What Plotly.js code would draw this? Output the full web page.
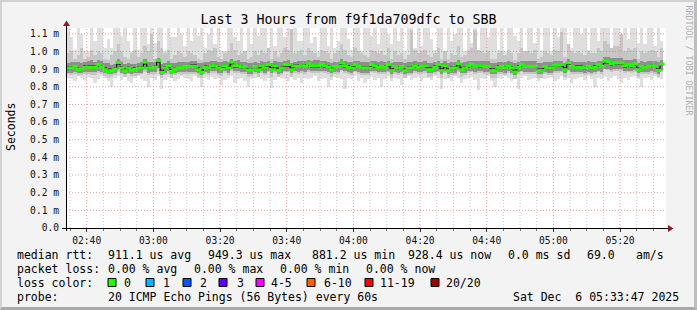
<!DOCTYPE html>
<html><head><meta charset="utf-8">
<script src="https://cdn.plot.ly/plotly-3.0.1.min.js"></script>
<style>
html,body{margin:0;padding:0;background:#f3f3f3;}
#wrap{position:relative;width:697px;height:310px;}
#chart{width:697px;height:310px;}
#frame{position:absolute;left:0;top:0;width:697px;height:310px;box-sizing:border-box;border-style:solid;border-width:2px 3px 3px 2px;border-color:#d2d2d2 #bdbdbd #a9a9a9 #d2d2d2;pointer-events:none;}
</style>
</head><body><div id="wrap"><div id="chart"></div><div id="frame"></div></div>
<script>
// ---- data (microseconds), one value per 1-minute bin starting 02:34 ----
const firstBinMinute = 2*60 + 34;   // 02:34
const medianRtt = [
905.9,905.9,915.4,898.4,902.2,909.7,909.7,909.7,909.7,926.7,911.6,896.5,887.1,890.8,900.3,938.0,905.9,889.0,905.9,894.6,898.4,905.9,905.9,939.9,905.9,907.8,911.6,949.3,881.2,905.9,919.2,887.1,900.3,907.8,907.8,915.4,
915.4,915.4,915.4,896.5,882.0,909.7,905.9,919.2,919.2,905.9,900.3,919.2,905.9,939.9,919.2,919.2,911.6,915.4,894.6,894.6,915.4,896.5,919.2,905.9,926.7,896.5,919.2,892.7,905.9,926.7,926.7,896.5,917.3,915.4,919.2,915.4,
930.5,919.2,919.2,919.2,926.7,919.2,911.6,896.5,915.4,915.4,936.1,919.2,909.7,905.9,926.7,915.4,905.9,905.9,905.9,926.7,919.2,909.7,915.4,909.7,926.7,890.8,915.4,905.9,915.4,890.8,905.9,905.9,919.2,909.7,915.4,919.2,
896.5,896.5,909.7,926.7,890.8,919.2,890.8,905.9,905.9,930.5,896.5,905.9,919.2,926.7,915.4,919.2,919.2,915.4,915.4,890.8,890.8,909.7,915.4,905.9,919.2,905.9,883.3,909.7,926.7,915.4,915.4,915.4,915.4,890.8,890.8,915.4,
905.9,905.9,922.9,922.9,926.7,896.5,936.1,915.4,909.7,909.7,909.7,905.9,915.4,905.9,909.7,926.7,915.4,947.0,941.8,930.5,936.1,936.1,936.1,919.2,926.7,919.2,930.5,896.5,915.4,909.7,915.4,919.2,915.4,892.7,928.4];

// outer smoke (lightest): max / min ping
const smokeMax = [
1140,1080,1010,1140,1100,1000,1000,1140,1060,1140,1140,1020,1070,1020,1140,1140,1090,1140,1060,1000,1140,1010,1140,1140,1040,1140,1050,1140,1140,1000,1140,1080,1080,1140,1100,1030,
1140,1060,1140,1090,1140,1020,1100,1140,1040,1140,1000,1000,1140,1140,1080,1060,1140,1000,1140,1040,1140,1090,1140,1140,1000,1140,1030,1140,1140,1080,1140,990,1140,1060,1060,1140,
1140,1050,1080,1000,1140,1140,1030,1140,1020,1060,1140,1140,1070,1010,1140,1140,1000,1140,1140,1090,1140,1040,1140,1140,1100,1040,1140,1060,1140,1000,1140,1140,1020,1140,1030,1140,
1140,1070,1010,1140,1140,1000,1140,1060,1100,1140,1140,1000,1140,1050,1140,990,1140,1140,1080,1140,1140,1010,1140,1000,1140,1140,1090,1060,1140,1000,1140,1140,1050,1140,1010,1140,
1140,1000,1140,1080,1140,1140,1040,1020,1140,1140,1100,1140,1010,1140,1140,1060,1140,1140,1140,1020,1140,1140,990,1140,1070,1140,1140,1050,1140,1040,1140,1140,1030,1140,1060];
const smokeMin = [
850,845,830,860,850,840,855,850,820,845,860,850,830,800,850,860,840,855,835,820,850,860,845,830,800,850,840,860,790,840,855,850,830,845,860,850,
845,830,860,850,800,850,840,855,845,850,810,840,850,860,820,845,850,835,800,845,850,860,845,830,850,795,840,860,850,845,830,855,840,850,820,850,
845,850,860,830,845,850,800,840,855,850,845,790,850,845,860,830,850,820,845,855,840,850,800,845,860,835,850,845,810,850,860,840,850,855,830,850,
850,840,860,850,790,845,850,830,860,850,820,845,850,855,840,780,850,845,860,835,800,850,845,860,850,830,845,790,850,860,840,845,850,830,855,845,
850,855,830,845,860,840,850,820,845,850,855,840,860,845,800,850,845,855,830,850,860,845,820,850,840,855,860,845,800,850,855,840,860,850,845];
// second smoke band
const band2Hi = [
990,1000,960,980,1020,960,970,1010,980,1000,990,960,950,980,1000,1040,1000,970,960,990,1010,970,990,1030,1000,1100,960,1060,1020,990,1010,960,980,1000,990,970,
1000,990,980,960,950,990,1010,1000,1020,970,960,990,1000,1050,1010,980,990,1000,960,970,1000,980,1010,990,1020,960,1000,970,990,1020,1010,1130,990,1000,1010,980,
1020,1000,990,970,1010,1000,990,960,990,1000,1040,1010,980,970,1020,1000,990,980,970,1010,1000,990,1000,980,1020,960,1000,980,990,960,980,1120,1010,990,1000,1010,
980,970,990,1020,960,1000,960,990,980,1030,970,980,1010,1020,1120,1010,1000,990,1000,960,960,990,1000,980,1010,990,950,990,1020,1000,1000,990,1010,960,970,1000,
990,980,1010,1000,1110,970,1040,1000,990,1000,990,980,1000,990,990,1020,1000,1060,1040,1020,1030,1030,1100,1000,1020,1010,1020,960,1000,990,1000,1010,1000,970,1020];
const band2Lo = [
870,865,875,860,865,870,872,868,865,880,870,860,850,855,865,885,870,855,870,860,862,868,870,885,868,870,872,890,850,865,875,852,865,870,868,875,
875,872,870,858,848,870,866,878,880,868,862,878,868,890,878,876,872,875,858,860,875,858,878,866,885,858,878,855,866,885,885,858,876,872,878,875,
885,878,876,878,884,878,870,858,874,875,890,878,870,866,884,874,866,866,866,884,878,870,874,870,884,852,874,866,874,852,866,866,878,870,874,878,
858,858,870,884,852,878,852,866,866,886,858,866,878,884,874,878,878,874,874,852,852,870,874,866,878,866,845,870,884,874,874,874,874,852,852,874,
866,866,880,880,884,858,890,874,870,870,870,866,874,866,870,884,874,900,895,886,890,890,890,878,884,878,886,858,874,870,874,878,874,855,886];
// inner smoke spreads around the median (us above / below)
const band3Up = [
30,35,25,40,30,30,35,40,30,25,35,40,45,35,30,20,35,40,30,35,30,30,35,20,35,30,30,15,50,30,25,45,35,30,30,25,
25,30,30,40,50,30,35,25,25,35,40,25,35,20,25,30,30,25,40,40,25,40,25,35,20,40,25,45,35,20,25,40,25,30,25,30,
20,25,30,30,20,25,30,40,25,25,20,25,30,35,20,30,35,35,35,20,25,30,30,30,20,45,25,35,25,45,35,35,25,30,25,25,
40,40,30,20,45,25,45,35,35,20,40,35,25,20,30,25,25,30,30,45,45,30,25,35,25,35,50,30,20,30,30,30,30,45,45,25,
35,35,25,25,20,40,20,30,30,30,30,35,30,35,30,20,30,20,25,30,25,25,25,30,25,30,25,40,30,30,30,25,30,45,25];
const band3Dn = [
25,25,30,20,25,25,25,25,25,35,25,20,15,20,25,40,25,15,25,20,20,25,25,40,25,25,25,45,12,25,30,15,25,25,25,30,
30,30,30,20,15,25,25,30,30,25,20,30,25,40,30,30,28,30,20,20,30,20,30,25,35,20,30,18,25,35,35,20,30,30,30,30,
35,30,30,30,35,30,28,20,30,30,40,30,25,25,35,30,25,25,25,35,30,25,30,25,35,18,30,25,30,18,25,25,30,25,30,30,
20,20,25,35,18,30,18,25,25,35,20,25,30,35,30,30,30,30,30,18,18,25,30,25,30,25,15,25,35,30,30,30,30,18,18,30,
25,25,32,32,35,20,40,30,25,25,25,25,30,25,25,35,30,45,40,35,38,38,38,30,35,30,35,20,30,25,30,30,30,18,35];
const band4Up = [
12,14,8,16,12,12,14,14,12,8,12,16,18,14,12,6,14,16,12,14,12,12,14,6,12,12,12,4,18,12,8,16,14,12,12,10,
10,12,12,14,18,12,14,8,8,14,14,8,14,6,8,12,12,10,14,14,10,14,8,14,8,16,8,18,14,8,8,14,10,12,8,12,
6,8,10,10,6,8,12,16,10,10,6,8,12,14,6,10,14,14,14,6,8,12,10,12,6,16,10,14,10,16,14,14,8,12,10,8,
14,14,12,6,16,8,16,14,14,6,14,14,8,6,10,8,8,10,10,16,16,12,10,14,8,14,18,12,6,10,10,10,10,16,16,10,
14,14,8,8,6,14,6,10,12,12,12,14,10,14,12,6,10,4,6,8,6,6,6,8,6,8,6,14,10,12,10,8,10,16,8];
const band4Dn = [
8,8,10,6,8,8,8,8,8,12,8,6,4,6,8,14,8,4,8,6,6,8,8,14,8,8,8,16,4,8,10,4,8,8,8,10,
10,10,10,6,4,8,8,10,10,8,6,10,8,14,10,10,9,10,6,6,10,6,10,8,12,6,10,5,8,12,12,6,10,10,10,10,
12,10,10,10,12,10,9,6,10,10,14,10,8,8,12,10,8,8,8,12,10,8,10,8,12,5,10,8,10,5,8,8,10,8,10,10,
6,6,8,12,5,10,5,8,8,12,6,8,10,12,10,10,10,10,10,5,5,8,10,8,10,8,4,8,12,10,10,10,10,5,5,10,
8,8,11,11,12,6,14,10,8,8,8,8,10,8,8,12,10,16,14,12,13,13,13,10,12,10,12,6,10,8,10,10,10,5,12];

const yTickVals = [0,0.1,0.2,0.3,0.4,0.5,0.6,0.7,0.8,0.9,1.0,1.1];
const yTickText = ['0.0','0.1 m','0.2 m','0.3 m','0.4 m','0.5 m','0.6 m','0.7 m','0.8 m','0.9 m','1.0 m','1.1 m'];
const statLine1 = [['median rtt:',16],['911.1 us avg',107],['949.3 us max',207],['881.2 us min',311],['928.4 us now',407],['0.0 ms sd',507],['69.0',586],['am/s',635]];
const statLine2 = [['packet loss:',16],['0.00 % avg',107],['0.00 % max',193],['0.00 % min',279],['0.00 % now',365]];
const lossLabels = ['0','1','2','3','4-5','6-10','11-19','20/20'];
const lossColors = ['#20ff00','#00b8ff','#0059ff','#5e00ff','#ff00ff','#ff5e00','#ff0000','#a10000'];
const lossBoxX = [108,146,183,219,256,307,365,431];
const lossLabelX = [123,162,199,236,270,323,379,445];

// ---- helpers ----
function pad(n){return (n<10?'0':'')+n;}
function stamp(minOfDay, sec){return '2025-12-06 '+pad(Math.floor(minOfDay/60))+':'+pad(minOfDay%60)+':'+pad(sec);}
const n = medianRtt.length;
const binStart = [], binMid = [];
for(let k=0;k<n;k++){binStart.push(stamp(firstBinMinute+k,0)); binMid.push(stamp(firstBinMinute+k,30));}
const ms = v => v/1000;
function band(lo, hi, color){
  return {type:'bar', x:binMid, base:lo.map(ms), y:hi.map((h,i)=>ms(h-lo[i])), width:60000,
    marker:{color:color, line:{width:0}}, hoverinfo:'skip', showlegend:false};
}
const b3lo = medianRtt.map((m,i)=>m-band3Dn[i]), b3hi = medianRtt.map((m,i)=>m+band3Up[i]);
const b4lo = medianRtt.map((m,i)=>m-band4Dn[i]), b4hi = medianRtt.map((m,i)=>m+band4Up[i]);

const traces = [
  band(smokeMin, smokeMax, '#dfdfdf'),
  band(band2Lo, band2Hi, '#c6c6c6'),
  band(b3lo, b3hi, '#8e8e8e'),
  band(b4lo, b4hi, '#4c4c4c'),
  {type:'scatter', mode:'lines', x:binStart, y:medianRtt.map(ms), line:{shape:'hv', color:'#000', width:1}, hoverinfo:'skip', showlegend:false},
  {type:'scatter', mode:'markers', x:binMid, y:medianRtt.map(ms), marker:{symbol:'line-ew', size:4, color:lossColors[0], line:{color:lossColors[0], width:3}}, hoverinfo:'skip', showlegend:false}
];

// pixel -> paper helpers (plot area 66..666 x 28..228)
const L=66, T=28, W=600, H=200;
const PX = x => (x-L)/W, PY = y => (T+H-y)/H;
const mono = 'DejaVu Sans Mono';

const shapes = [];
// grid lines drawn above smoke
const gridX0 = 2*60+35, gridX1 = 5*60+30;
for(let m=gridX0; m<=gridX1; m+=5){
  const major = (m%20===0);
  shapes.push({type:'line', xref:'x', yref:'paper', x0:stamp(m,0), x1:stamp(m,0), y0:0, y1:1, layer:'above',
    line:{color: major? 'rgba(240,120,120,0.75)':'rgba(190,190,190,0.8)', width:1, dash:'1px,2px'}});
}
yTickVals.slice(1).forEach(v=>shapes.push({type:'line', xref:'paper', yref:'y', x0:0, x1:1, y0:v, y1:v, layer:'above',
  line:{color:'rgba(240,120,120,0.75)', width:1, dash:'1px,2px'}}));
// axes with arrows
shapes.push({type:'line', xref:'paper', yref:'paper', x0:PX(62), x1:PX(669), y0:PY(228.5), y1:PY(228.5), line:{color:'#000', width:1}, layer:'above'});
shapes.push({type:'line', xref:'paper', yref:'paper', x0:PX(66.5), x1:PX(66.5), y0:PY(231), y1:PY(25), line:{color:'#000', width:1}, layer:'above'});
shapes.push({type:'path', xref:'paper', yref:'paper', path:`M ${PX(63)} ${PY(26)} L ${PX(70)} ${PY(26)} L ${PX(66.5)} ${PY(20.5)} Z`, fillcolor:'#8b1c1c', line:{width:0}, layer:'above'});
shapes.push({type:'path', xref:'paper', yref:'paper', path:`M ${PX(668)} ${PY(225)} L ${PX(668)} ${PY(232)} L ${PX(673.5)} ${PY(228.5)} Z`, fillcolor:'#8b1c1c', line:{width:0}, layer:'above'});
// loss colour swatches
lossColors.forEach((c,i)=>shapes.push({type:'rect', xref:'paper', yref:'paper', x0:PX(lossBoxX[i]), x1:PX(lossBoxX[i]+8), y0:PY(286.5), y1:PY(278.5), fillcolor:c, line:{color:'#000', width:1}}));

const ann = [];
function txt(s, x, y, size, extra){ann.push(Object.assign({text:s, xref:'paper', yref:'paper', x:PX(x), y:PY(y), xanchor:'left', yanchor:'middle', showarrow:false, borderpad:0, font:{family:mono, size:size, color:'#000'}}, extra||{}));}
statLine1.forEach(p=>txt(p[0], p[1], 254.5, 11.5));
statLine2.forEach(p=>txt(p[0], p[1], 268.5, 11.5));
txt('loss color:', 16, 282.5, 11.5);
lossLabels.forEach((s,i)=>txt(s, lossLabelX[i], 282.5, 11.5));
txt('probe:', 16, 296.5, 11.5);
txt('20 ICMP Echo Pings (56 Bytes) every 60s', 107, 296.5, 11.5);
txt('Sat Dec\u00a0\u00a06 05:33:47 2025', 512, 296.5, 11.5);
ann.push({text:'Seconds', xref:'paper', yref:'paper', x:PX(11), y:PY(127), xanchor:'center', yanchor:'middle', textangle:-90, showarrow:false, font:{family:mono, size:11.5, color:'#000'}});
ann.push({text:'RRDTOOL / TOBI OETIKER', xref:'paper', yref:'paper', x:PX(688.5), y:PY(60), xanchor:'center', yanchor:'middle', textangle:90, showarrow:false, font:{family:mono, size:8.3, color:'#b0b0b0'}});

const layout = {
  width:697, height:310,
  margin:{l:L, r:697-L-W, t:T, b:310-T-H, pad:0},
  paper_bgcolor:'#f3f3f3', plot_bgcolor:'#ffffff',
  barmode:'overlay', bargap:0,
  title:{text:'Last 3 Hours from f9f1da709dfc to SBB', font:{family:mono, size:13.3, color:'#000'}, x:0.5, xanchor:'center', y:1-19.5/310, yanchor:'middle'},
  xaxis:{type:'date', range:['2025-12-06 02:33:47','2025-12-06 05:33:47'], tick0:'2025-12-06 02:40:00', dtick:1200000, tickformat:'%H:%M',
    showgrid:false, zeroline:false, showline:false, ticks:'outside', ticklen:3, tickcolor:'#333',
    tickfont:{family:mono, size:9.6, color:'#111'},
    minor:{dtick:300000, tick0:'2025-12-06 02:40:00', ticks:'outside', ticklen:2, tickcolor:'#777', showgrid:false}},
  yaxis:{range:[0, 1.133], tickvals:yTickVals, ticktext:yTickText, showgrid:false, zeroline:false, showline:false, ticks:'',
    ticklabelstandoff:6, tickfont:{family:mono, size:9.6, color:'#111'}},
  shapes:shapes, annotations:ann, showlegend:false
};
Plotly.newPlot('chart', traces, layout, {staticPlot:true, displayModeBar:false});
</script>
</body></html>
